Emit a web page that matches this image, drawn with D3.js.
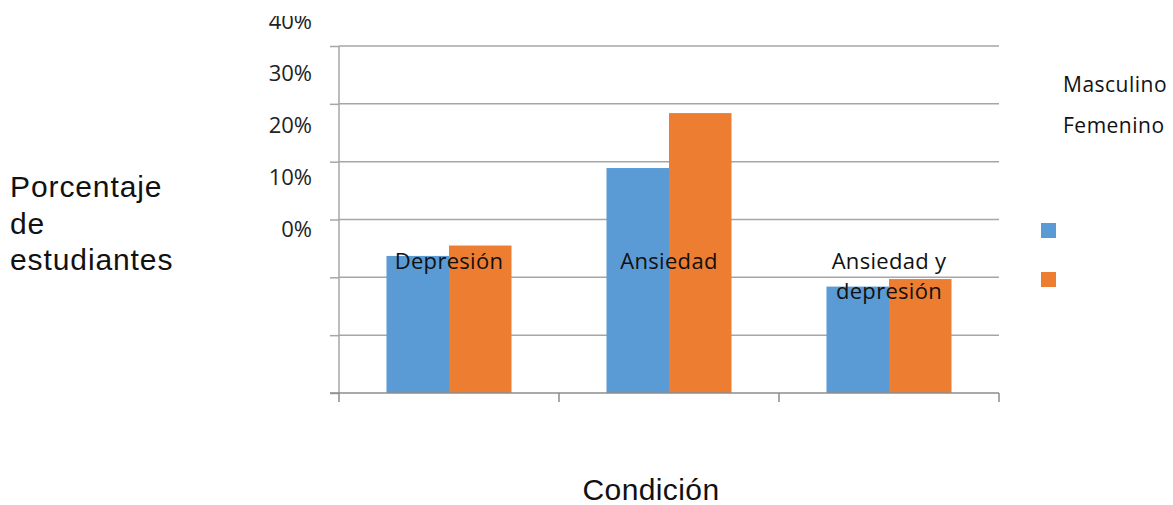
<!DOCTYPE html>
<html>
<head>
<meta charset="utf-8">
<script src="https://cdn.jsdelivr.net/npm/d3@7"></script>
<style>
  html, body { margin: 0; padding: 0; background: #fff; }
  svg { display: block; }
</style>
</head>
<body>
<script>
// ---- data ----
const categories = ["Depresión", "Ansiedad", "Ansiedad y depresión"];
const seriesNames = ["Masculino", "Femenino"];
const masculino = [23.7, 38.9, 18.4];
const femenino = [25.5, 48.4, 19.7];
const gridValues = [0, 10, 20, 30, 40, 50, 60];
const tickLabels = ["0%", "10%", "20%", "30%", "40%"];
const tickLabelValues = [0, 10, 20, 30, 40];
const colors = ["#5B9BD5", "#ED7D31"];

const W = 1173, H = 505;
const svg = d3.select("body").append("svg").attr("width", W).attr("height", H);

const plot = { left: 339, right: 999, top: 46, bottom: 393 };

const y = d3.scaleLinear().domain([0, 60]).range([plot.bottom, plot.top]);
const x0 = d3.scaleBand().domain(categories).range([plot.left, plot.right]).padding(0);
const x1 = d3.scaleBand().domain(seriesNames).range([0, x0.bandwidth()]).paddingInner(0).paddingOuter(0.76);

// gridlines
svg.append("g").selectAll("line").data(gridValues.filter(v => v > 0)).join("line")
  .attr("x1", plot.left).attr("x2", plot.right)
  .attr("y1", d => y(d)).attr("y2", d => y(d))
  .attr("stroke", "#A6A6A6").attr("stroke-width", 1.5);

// y axis line + left ticks
const yAxis = d3.axisLeft(y).tickValues(gridValues).tickSize(9).tickFormat("");
const gy = svg.append("g").attr("transform", `translate(${plot.left},0)`).call(yAxis);
gy.selectAll("path,line").attr("stroke", "#A6A6A6").attr("stroke-width", 1.5);
gy.select("path").attr("d", `M0,${plot.top}V${plot.bottom}`);

// bars
const data = categories.map((c, i) => ({ cat: c, vals: [masculino[i], femenino[i]] }));
const groups = svg.append("g").selectAll("g").data(data).join("g")
  .attr("transform", d => `translate(${x0(d.cat)},0)`);
groups.selectAll("rect").data(d => d.vals.map((v, j) => ({ name: seriesNames[j], v, j })))
  .join("rect")
  .attr("x", d => x1(d.name))
  .attr("width", x1.bandwidth())
  .attr("y", d => y(d.v))
  .attr("height", d => y(0) - y(d.v))
  .attr("fill", d => colors[d.j]);

// x axis
const xAxis = d3.axisBottom(x0).tickSize(9).tickFormat("");
const gx = svg.append("g").attr("transform", `translate(0,${plot.bottom})`).call(xAxis);
gx.selectAll("line").remove();
gx.select("path").attr("d", `M${plot.left - 9},0H${plot.right}`).attr("stroke", "#8C8C8C").attr("stroke-width", 1.5).attr("fill", "none");
const boundaries = categories.map(c => x0(c)).concat([plot.right]);
gx.selectAll("line.b").data(boundaries).join("line").attr("class", "b")
  .attr("x1", d => d).attr("x2", d => d).attr("y1", 0).attr("y2", 9)
  .attr("stroke", "#8C8C8C").attr("stroke-width", 1.5);

// y tick labels (displaced, as in the reference)
const labelY = d3.scaleLinear().domain([0, 40]).range([229.5, 21]);
svg.append("clipPath").attr("id", "clipTop").append("rect")
  .attr("x", 0).attr("y", 16).attr("width", W).attr("height", H);
svg.append("g").attr("clip-path", "url(#clipTop)")
  .selectAll("text").data(tickLabelValues).join("text")
  .attr("x", 312).attr("y", d => labelY(d)).attr("dy", "0.36em")
  .attr("text-anchor", "end")
  .attr("font-family", "'Open Sans', sans-serif").attr("font-size", 22).attr("fill", "#222")
  .text((d, i) => tickLabels[i]);

// category labels inside plot
const catFont = 22;
function wrapWords(str, maxW, size) {
  const words = str.split(" ");
  const lines = [];
  let cur = "";
  const tmp = svg.append("text").attr("font-family", "'Open Sans', sans-serif").attr("font-size", size);
  words.forEach(w => {
    const test = cur ? cur + " " + w : w;
    tmp.text(test);
    if (tmp.node().getComputedTextLength() > maxW && cur) { lines.push(cur); cur = w; }
    else cur = test;
  });
  if (cur) lines.push(cur);
  tmp.remove();
  return lines;
}
const catG = svg.append("g");
categories.forEach(c => {
  const lines = wrapWords(c, 140, catFont);
  const cx = x0(c) + x0.bandwidth() / 2;
  const t = catG.append("text")
    .attr("text-anchor", "middle")
    .attr("font-family", "'Open Sans', sans-serif").attr("font-size", catFont)
    .attr("letter-spacing", 0.3).attr("fill", "#111");
  lines.forEach((l, i) => t.append("tspan").attr("x", cx).attr("y", 269 + i * 29.5).text(l));
});

// legend (texts and swatches displaced, as in the reference)
seriesNames.forEach((n, i) => {
  svg.append("text").attr("x", 1063).attr("y", 92 + i * 41)
    .attr("font-family", "'Open Sans', sans-serif").attr("font-size", 21)
    .attr("letter-spacing", 0.5).attr("fill", "#111")
    .text(n);
  svg.append("rect").attr("x", 1041).attr("y", 223 + i * 49).attr("width", 15).attr("height", 15)
    .attr("fill", colors[i]);
});

// axis titles
const yTitle = svg.append("text").attr("font-family", "'Liberation Sans', Arial, sans-serif")
  .attr("font-size", 30).attr("letter-spacing", 0.9).attr("fill", "#111");
["Porcentaje", "de", "estudiantes"].forEach((l, i) =>
  yTitle.append("tspan").attr("x", 10).attr("y", 197 + i * 36.5).text(l));

svg.append("text").attr("x", 651).attr("y", 500).attr("text-anchor", "middle")
  .attr("font-family", "'Liberation Sans', Arial, sans-serif").attr("font-size", 30)
  .attr("letter-spacing", 0.4).attr("fill", "#111")
  .text("Condición");
</script>
</body>
</html>
